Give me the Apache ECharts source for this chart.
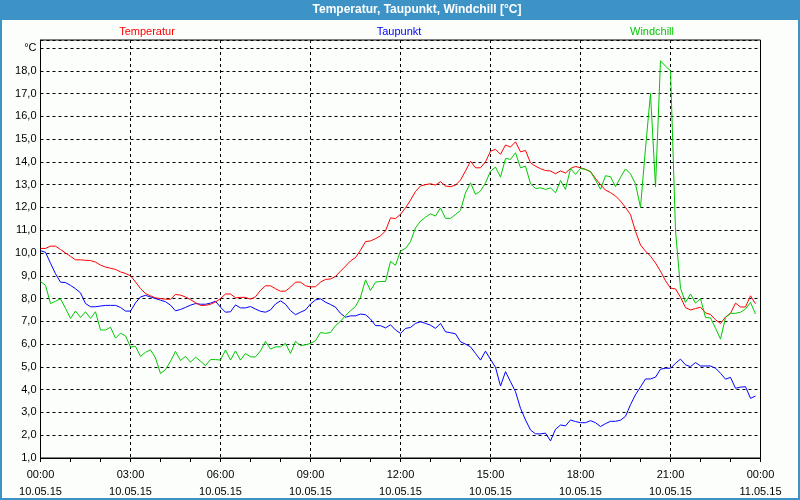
<!DOCTYPE html>
<html>
<head>
<meta charset="utf-8">
<script src="https://cdn.jsdelivr.net/npm/echarts@6/dist/echarts.min.js"></script>
<style>
html,body{margin:0;padding:0;background:#fcfefc;}
#chart{width:800px;height:500px;}
</style>
</head>
<body>
<div id="chart"></div>
<script>
// 10-minute samples, 10.05.15 00:00 .. 23:50
const temperatur = [
10.2,10.2,10.3,10.3,10.15,10.0,9.85,9.7,9.7,9.68,9.67,9.6,9.47,9.38,9.33,9.28,9.17,9.1,9.0,8.73,8.44,8.22,8.12,8.03,8.0,7.97,7.97,8.18,8.15,8.07,7.95,7.82,7.7,7.7,7.75,7.85,8.0,
8.2,8.2,8.03,8.05,8.05,7.97,8.08,8.36,8.56,8.56,8.43,8.32,8.33,8.5,8.72,8.72,8.56,8.51,8.52,8.72,8.84,8.86,8.97,9.2,9.42,9.65,9.8,10.12,10.5,10.53,10.63,10.75,10.97,11.54,11.51,11.7,
11.98,12.32,12.7,12.94,13.0,13.04,12.98,13.13,12.94,12.91,12.98,13.2,13.6,14.03,13.74,13.74,14.0,14.47,14.55,14.33,14.74,14.65,14.88,14.44,14.5,13.96,13.81,13.7,13.62,13.6,13.48,13.6,13.51,13.71,13.8,13.74,
13.67,13.57,13.27,13.0,12.76,12.65,12.5,12.28,12.0,11.68,10.95,10.35,10.08,9.86,9.56,9.2,8.78,8.46,8.42,8.06,7.6,7.5,7.56,7.62,7.37,7.3,7.07,6.9,7.19,7.35,7.8,7.63,7.63,8.12,7.77
];
const taupunkt = [
10.1,10.03,9.55,9.09,8.72,8.7,8.58,8.43,8.25,7.78,7.64,7.64,7.67,7.7,7.7,7.7,7.61,7.45,7.45,7.81,8.07,8.14,8.07,8.0,7.93,7.86,7.71,7.46,7.52,7.61,7.71,7.78,7.75,7.75,7.8,7.88,7.62,
7.4,7.42,7.72,7.59,7.59,7.65,7.54,7.44,7.4,7.5,7.76,7.9,7.75,7.47,7.29,7.4,7.5,7.76,7.94,7.99,7.84,7.74,7.62,7.35,7.18,7.24,7.24,7.32,7.29,7.1,6.81,6.81,6.71,6.85,6.62,6.47,
6.69,6.73,6.91,6.98,6.91,6.83,6.69,6.91,6.54,6.5,6.45,6.1,6.0,5.88,5.59,5.3,5.69,5.33,4.98,4.16,4.79,4.35,3.91,3.18,2.67,2.23,2.06,2.06,2.09,1.75,2.26,2.45,2.41,2.67,2.6,2.55,
2.55,2.64,2.55,2.38,2.51,2.61,2.61,2.66,2.83,3.34,3.78,4.12,4.47,4.47,4.55,4.9,4.94,4.94,5.16,5.34,5.09,5.01,5.19,5.04,5.04,5.04,4.94,4.72,4.46,4.54,4.06,4.11,4.13,3.62,3.72
];
const windchill = [
8.75,8.58,7.78,7.88,7.99,7.57,7.13,7.45,7.17,7.42,7.13,7.42,6.62,6.62,6.74,6.26,6.48,6.36,5.87,5.9,5.46,5.64,5.75,5.39,4.71,4.88,5.25,5.68,5.28,5.46,5.2,5.43,5.25,5.06,5.32,5.32,5.3,
5.74,5.3,5.7,5.3,5.59,5.44,5.44,5.7,6.12,5.78,5.88,5.88,6.03,5.59,6.12,5.93,5.97,6.03,6.15,6.51,6.47,6.51,6.81,7.0,7.25,7.47,7.65,8.06,8.82,8.35,8.72,8.75,8.75,9.63,9.46,10.09,
10.2,10.5,11.1,11.4,11.57,11.72,11.62,11.98,11.52,11.52,11.69,11.87,12.64,13.08,12.57,12.72,13.08,13.59,13.77,13.33,14.15,14.11,14.4,13.74,13.81,13.04,12.83,12.86,12.79,12.86,12.64,13.18,12.79,13.71,13.45,13.71,
13.67,13.57,13.2,12.8,13.39,13.35,12.91,13.32,13.69,13.47,13.03,12.0,14.6,17.0,12.9,18.44,18.2,18.0,10.98,8.45,7.83,8.2,7.8,8.0,7.17,7.15,6.7,6.22,7.17,7.35,7.35,7.4,7.54,7.83,7.32
];
const sampleMinutes = temperatur.map((_, i) => i * 10);
const xTickLabels = ['00:00\n10.05.15','03:00\n10.05.15','06:00\n10.05.15','09:00\n10.05.15','12:00\n10.05.15','15:00\n10.05.15','18:00\n10.05.15','21:00\n10.05.15','00:00\n11.05.15'];
const yTickLabels = ['1,0','2,0','3,0','4,0','5,0','6,0','7,0','8,0','9,0','10,0','11,0','12,0','13,0','14,0','15,0','16,0','17,0','18,0','°C'];
const seriesNames = ['Temperatur','Taupunkt','Windchill'];
const titleText = 'Temperatur, Taupunkt, Windchill [°C]';

const colors = ['#ff0000','#0000ff','#00c800'];
const FONT = 'Liberation Sans';
const pairs = arr => arr.map((v, i) => [sampleMinutes[i], v]);

const chart = echarts.init(document.getElementById('chart'), null, {renderer:'canvas'});
chart.setOption({
  animation: false,
  backgroundColor: '#fcfefc',
  grid: {left: 40.5, right: 39.5, top: 40, bottom: 42, show: true, borderColor: '#000', borderWidth: 1, backgroundColor: 'transparent'},
  xAxis: {
    type: 'value', min: 0, max: 1440, interval: 180,
    axisLine: {show: true, lineStyle: {color: '#000', width: 1}},
    axisTick: {show: true, inside: false, length: 4, lineStyle: {color: '#000'}},
    minorTick: {show: true, splitNumber: 3, length: 4, lineStyle: {color: '#000'}},
    splitLine: {show: true, lineStyle: {color: '#000', type: [3, 3], width: 1}},
    axisLabel: {
      margin: 8, fontFamily: FONT, fontSize: 11, color: '#000', lineHeight: 17,
      formatter: v => xTickLabels[Math.round(v / 180)] || ''
    }
  },
  yAxis: {
    type: 'value', min: 1, max: 19.35, interval: 1,
    axisLine: {show: true, lineStyle: {color: '#000'}},
    axisTick: {show: false},
    splitLine: {show: true, lineStyle: {color: '#000', type: [3, 3], width: 1}},
    axisLabel: {
      margin: 4, fontFamily: FONT, fontSize: 11, color: '#000',
      formatter: v => Number.isInteger(v) ? (yTickLabels[v - 1] || '') : ''
    }
  },
  series: [
    {name: seriesNames[1], type: 'line', data: pairs(taupunkt), symbol: 'none', lineStyle: {color: colors[1], width: 1}, z: 3},
    {name: seriesNames[0], type: 'line', data: pairs(temperatur), symbol: 'none', lineStyle: {color: colors[0], width: 1}, z: 4},
    {name: seriesNames[2], type: 'line', data: pairs(windchill), symbol: 'none', lineStyle: {color: colors[2], width: 1}, z: 5}
  ],
  graphic: [
    {type: 'rect', shape: {x: 0, y: 0, width: 800, height: 500}, style: {fill: 'none', stroke: '#3d93c5', lineWidth: 4}, z: 100, silent: true},
    {type: 'rect', shape: {x: 0, y: 0, width: 800, height: 20}, style: {fill: '#3d93c5'}, z: 100, silent: true},
    {type: 'text', x: 417, y: 10, style: {text: titleText, fill: '#fff', font: 'bold 12px "Liberation Sans"', textAlign: 'center', textVerticalAlign: 'middle'}, z: 101},
    {type: 'text', x: 147, y: 32, style: {text: seriesNames[0], fill: colors[0], font: '11px "Liberation Sans"', textAlign: 'center', textVerticalAlign: 'middle'}, z: 101},
    {type: 'text', x: 399, y: 32, style: {text: seriesNames[1], fill: colors[1], font: '11px "Liberation Sans"', textAlign: 'center', textVerticalAlign: 'middle'}, z: 101},
    {type: 'text', x: 652, y: 32, style: {text: seriesNames[2], fill: colors[2], font: '11px "Liberation Sans"', textAlign: 'center', textVerticalAlign: 'middle'}, z: 101}
  ]
});
</script>
</body>
</html>
